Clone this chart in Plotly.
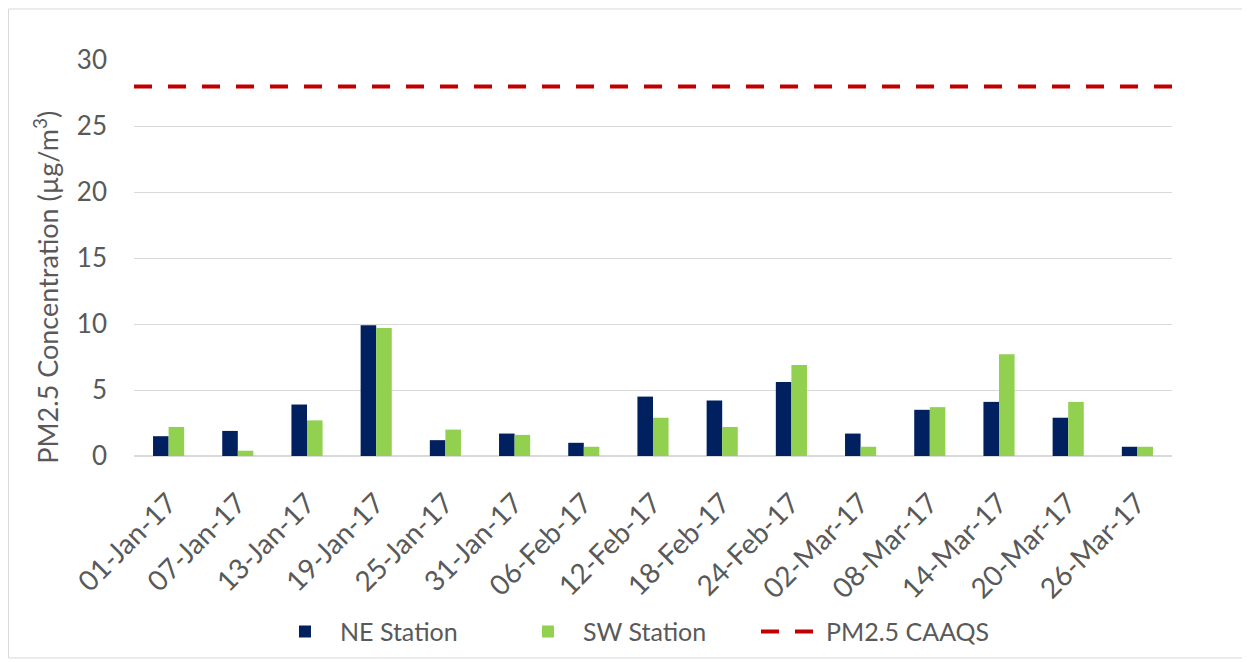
import plotly.graph_objects as go

dates = ["01-Jan-17", "07-Jan-17", "13-Jan-17", "19-Jan-17", "25-Jan-17", "31-Jan-17",
         "06-Feb-17", "12-Feb-17", "18-Feb-17", "24-Feb-17", "02-Mar-17", "08-Mar-17",
         "14-Mar-17", "20-Mar-17", "26-Mar-17"]
ne_station = [1.5, 1.9, 3.9, 9.9, 1.2, 1.7, 1.0, 4.5, 4.2, 5.6, 1.7, 3.5, 4.1, 2.9, 0.7]
sw_station = [2.2, 0.4, 2.7, 9.7, 2.0, 1.6, 0.7, 2.9, 2.2, 6.9, 0.7, 3.7, 7.7, 4.1, 0.7]
caaqs_value = 28
y_ticks = [0, 5, 10, 15, 20, 25, 30]

FONT = "Lato, Carlito, Calibri, sans-serif"
GREY = "#595959"

fig = go.Figure()
fig.add_trace(go.Bar(x=dates, y=ne_station, name="NE Station",
                     marker=dict(color="#002060", line=dict(width=0))))
fig.add_trace(go.Bar(x=dates, y=sw_station, name="SW Station",
                     marker=dict(color="#92d050", line=dict(width=0))))
fig.add_trace(go.Scatter(x=[0, 1], y=[caaqs_value, caaqs_value], xaxis="x2",
                         mode="lines", name="PM2.5 CAAQS",
                         line=dict(color="#c00000", width=4, dash="18px,16px")))

fig.update_layout(
    width=1250, height=662,
    paper_bgcolor="white", plot_bgcolor="white",
    margin=dict(l=126, r=86, t=52, b=214),
    barmode="group", bargap=0.55, bargroupgap=0,
    font=dict(family=FONT, color=GREY),
    showlegend=True,
    legend=dict(orientation="h", x=0.131, xanchor="left", y=-0.386, yanchor="top",
                font=dict(size=25, color=GREY), itemwidth=60,
                entrywidth=168, entrywidthmode="pixels",
                traceorder="normal", bgcolor="rgba(0,0,0,0)"),
    xaxis=dict(type="category", tickangle=-45, tickfont=dict(size=28, color=GREY),
               showgrid=False, showline=False, ticks="", zeroline=False,
               ticklabelstandoff=24, automargin=False),
    xaxis2=dict(overlaying="x", range=[0, 1], visible=False),
    yaxis=dict(range=[0, 30], tickvals=y_ticks, tickfont=dict(size=26, color=GREY),
               showgrid=True, gridcolor="#d9d9d9", gridwidth=1,
               zeroline=True, zerolinecolor="#d9d9d9", zerolinewidth=2,
               showline=False, ticks="", ticklabelstandoff=26, automargin=False),
    annotations=[dict(text="PM2.5 Concentration (µg/m<sup>3</sup>)",
                      xref="paper", yref="paper", x=-0.085, y=0.427,
                      xanchor="center", yanchor="middle", textangle=-90,
                      showarrow=False, font=dict(size=27, color=GREY))],
    shapes=[dict(type="rect", xref="paper", yref="paper",
                 x0=-0.1209, x1=1.0684, y0=-0.51, y1=1.1288,
                 line=dict(color="#d9d9d9", width=1), fillcolor="rgba(0,0,0,0)",
                 layer="below")],
)

fig.write_html("out.html")
